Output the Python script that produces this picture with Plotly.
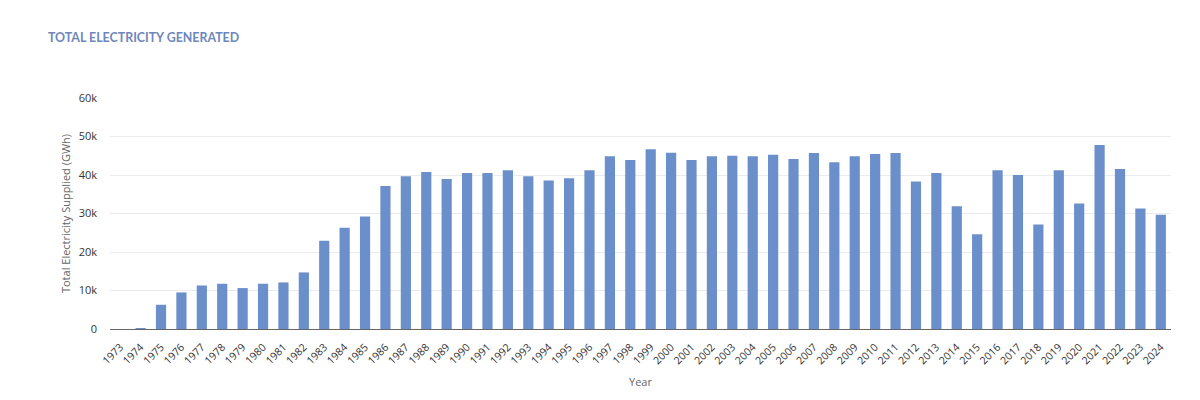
import plotly.graph_objects as go

years = [str(y) for y in range(1973, 2025)]
generated_gwh = [
    0, 80, 6300, 9500, 11300, 11750, 10630, 11750, 12100, 14700,
    22900, 26270, 29200, 37170, 39670, 40800, 38980, 40540, 40540, 41230,
    39670, 38550, 39150, 41230, 44860, 43900, 46670, 45810, 43900, 44860,
    45030, 44860, 45290, 44170, 45720, 43300, 44860, 45460, 45720, 38290,
    40540, 31890, 24630, 41230, 40020, 27140, 41230, 32580, 47800, 41570,
    31290, 29650,
]
y_ticks = [0, 10000, 20000, 30000, 40000, 50000, 60000]
y_tick_labels = ["0", "10k", "20k", "30k", "40k", "50k", "60k"]

fig = go.Figure(
    go.Bar(
        x=years,
        y=generated_gwh,
        marker=dict(color="#6b8fcb", line=dict(width=0)),
        hovertemplate="%{x}: %{y:,} GWh<extra></extra>",
    )
)

fig.update_layout(
    width=1200,
    height=400,
    paper_bgcolor="white",
    plot_bgcolor="white",
    margin=dict(l=102, r=37, t=90, b=79),
    bargap=0.5,
    showlegend=False,
    font=dict(family="Open Sans, sans-serif", color="#333333"),
    title=dict(
        text="<b>TOTAL ELECTRICITY GENERATED</b>",
        x=0.0333,
        xanchor="left",
        y=0.925,
        yanchor="middle",
        font=dict(family="Lato, sans-serif", size=12.4, color="#6d87bb"),
    ),
    xaxis=dict(
        type="category",
        tickangle=-45,
        tickfont=dict(size=10.5, color="#333333"),
        showline=True,
        linecolor="#666666",
        linewidth=1,
        ticks="",
        ticklabelstandoff=7,
        showgrid=False,
        title=dict(text="Year", font=dict(size=11, color="#666666"), standoff=12),
    ),
    yaxis=dict(
        range=[0, 60000],
        tickvals=y_ticks,
        ticktext=y_tick_labels,
        tickfont=dict(size=11, color="#333333"),
        showgrid=True,
        gridcolor="#e8ebf0",
        gridwidth=1,
        zeroline=False,
        ticks="",
        ticklabelstandoff=12,
        title=dict(
            text="Total Electricity Supplied (GWh)",
            font=dict(size=11, color="#666666"),
            standoff=5,
        ),
    ),
)

fig.write_html("out.html")
